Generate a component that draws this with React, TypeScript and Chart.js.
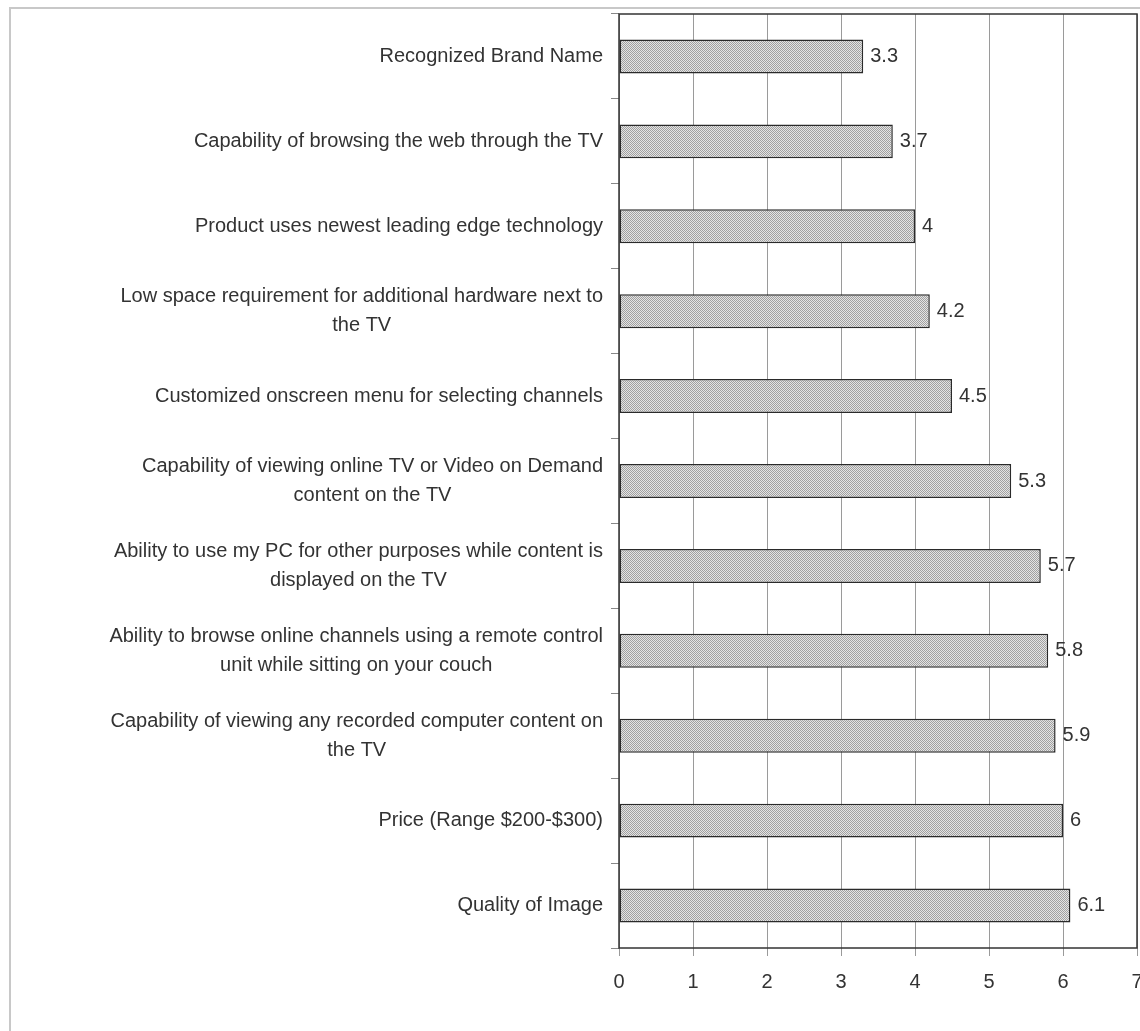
import React, { useEffect, useRef } from "react";
import { Chart, registerables } from "chart.js";

Chart.register(...registerables);

// Feature labels, top to bottom (multi-line labels split into lines)
const featureLabels: (string | string[])[] = [
  "Recognized Brand Name",
  "Capability of browsing the web through the TV",
  "Product uses newest leading edge technology",
  ["Low space requirement for additional hardware next to", "the TV"],
  "Customized onscreen menu for selecting channels",
  ["Capability of viewing online TV or Video on Demand", "content on the TV"],
  ["Ability to use my PC for other purposes while content is", "displayed on the TV"],
  ["Ability to browse online channels using a remote control", "unit while sitting on your couch"],
  ["Capability of viewing any recorded computer content on", "the TV"],
  "Price (Range $200-$300)",
  "Quality of Image",
];

// Mean importance rating per feature
const importanceScores: number[] = [3.3, 3.7, 4, 4.2, 4.5, 5.3, 5.7, 5.8, 5.9, 6, 6.1];

// Value axis range
const axisMin = 0;
const axisMax = 7;
const axisStep = 1;

const FONT_FAMILY = "'Liberation Sans', Arial, sans-serif";
const TEXT_COLOR = "#333333";

function makeDotPattern(ctx: CanvasRenderingContext2D): CanvasPattern | string {
  const tile = document.createElement("canvas");
  tile.width = 2;
  tile.height = 2;
  const t = tile.getContext("2d");
  if (!t) return "#c4c4c4";
  t.fillStyle = "#e4e4e4";
  t.fillRect(0, 0, 2, 2);
  t.fillStyle = "#a0a0a0";
  t.fillRect(0, 0, 1, 1);
  t.fillRect(1, 1, 1, 1);
  return ctx.createPattern(tile, "repeat") || "#c4c4c4";
}

// Draws the outer frame, the plot frame, category labels and value labels
const decorPlugin = {
  id: "decor",
  beforeDraw(chart: any) {
    const { ctx } = chart;
    ctx.save();
    ctx.fillStyle = "#ffffff";
    ctx.fillRect(0, 0, chart.width, chart.height);
    ctx.strokeStyle = "#c8c8c8";
    ctx.lineWidth = 2;
    ctx.strokeRect(10, 8, chart.width + 40, chart.height + 40);
    ctx.restore();
  },
  afterDraw(chart: any) {
    const { ctx, chartArea } = chart;
    const yScale = chart.scales.y;
    const meta = chart.getDatasetMeta(0);
    ctx.save();

    // plot frame
    ctx.strokeStyle = "#333333";
    ctx.lineWidth = 1.5;
    ctx.strokeRect(
      chartArea.left,
      chartArea.top,
      chartArea.right - chartArea.left,
      chartArea.bottom - chartArea.top
    );

    // category labels: block right-aligned, lines centred within the block
    ctx.font = `20px ${FONT_FAMILY}`;
    ctx.fillStyle = TEXT_COLOR;
    ctx.textBaseline = "middle";
    ctx.textAlign = "center";
    const lineHeight = 29;
    const rightEdge = chartArea.left - 16;
    featureLabels.forEach((label, i) => {
      const lines = Array.isArray(label) ? label : [label];
      const widest = Math.max(...lines.map((l) => ctx.measureText(l).width));
      const cx = rightEdge - widest / 2;
      const cy = yScale.getPixelForValue(i);
      const startY = cy - ((lines.length - 1) * lineHeight) / 2;
      lines.forEach((l, j) => ctx.fillText(l, cx, startY + j * lineHeight));
    });

    // value labels at the bar ends
    ctx.textAlign = "left";
    meta.data.forEach((bar: any, i: number) => {
      ctx.fillText(String(importanceScores[i]), bar.x + 7, bar.y);
    });
    ctx.restore();
  },
};

export default function App() {
  const canvasRef = useRef<HTMLCanvasElement | null>(null);

  useEffect(() => {
    document.body.style.margin = "0";
    const canvas = canvasRef.current;
    if (!canvas) return;
    const ctx = canvas.getContext("2d");
    if (!ctx) return;
    const pattern = makeDotPattern(ctx);

    const chart = new Chart(ctx, {
      type: "bar",
      data: {
        labels: featureLabels.map((l) => (Array.isArray(l) ? l.join(" ") : l)),
        datasets: [
          {
            data: importanceScores,
            backgroundColor: pattern as any,
            borderColor: "#2a2a2a",
            borderWidth: 1.5,
            borderSkipped: false,
            barPercentage: 0.4,
            categoryPercentage: 1,
          },
        ],
      },
      options: {
        indexAxis: "y",
        responsive: false,
        animation: false,
        layout: { padding: { top: 14, right: 3, left: 0, bottom: 0 } },
        plugins: {
          legend: { display: false },
          tooltip: { enabled: false },
        },
        scales: {
          x: {
            min: axisMin,
            max: axisMax,
            border: { display: false },
            grid: {
              color: "#9a9a9a",
              lineWidth: 1,
              tickLength: 8,
            },
            ticks: {
              stepSize: axisStep,
              color: TEXT_COLOR,
              padding: 14,
              font: { family: FONT_FAMILY, size: 20 },
            },
            afterFit(scale: any) {
              scale.height = 83;
              scale.paddingLeft = 0;
              scale.paddingRight = 0;
            },
          },
          y: {
            border: { display: false },
            grid: {
              drawOnChartArea: false,
              color: "#888888",
              tickLength: 8,
              offset: true,
            },
            ticks: { display: false },
            afterFit(scale: any) {
              scale.width = 619;
            },
          },
        },
      },
      plugins: [decorPlugin],
    });

    return () => chart.destroy();
  }, []);

  return (
    <div style={{ width: 1140, height: 1031 }}>
      <canvas ref={canvasRef} width={1140} height={1031} style={{ display: "block" }} />
    </div>
  );
}
